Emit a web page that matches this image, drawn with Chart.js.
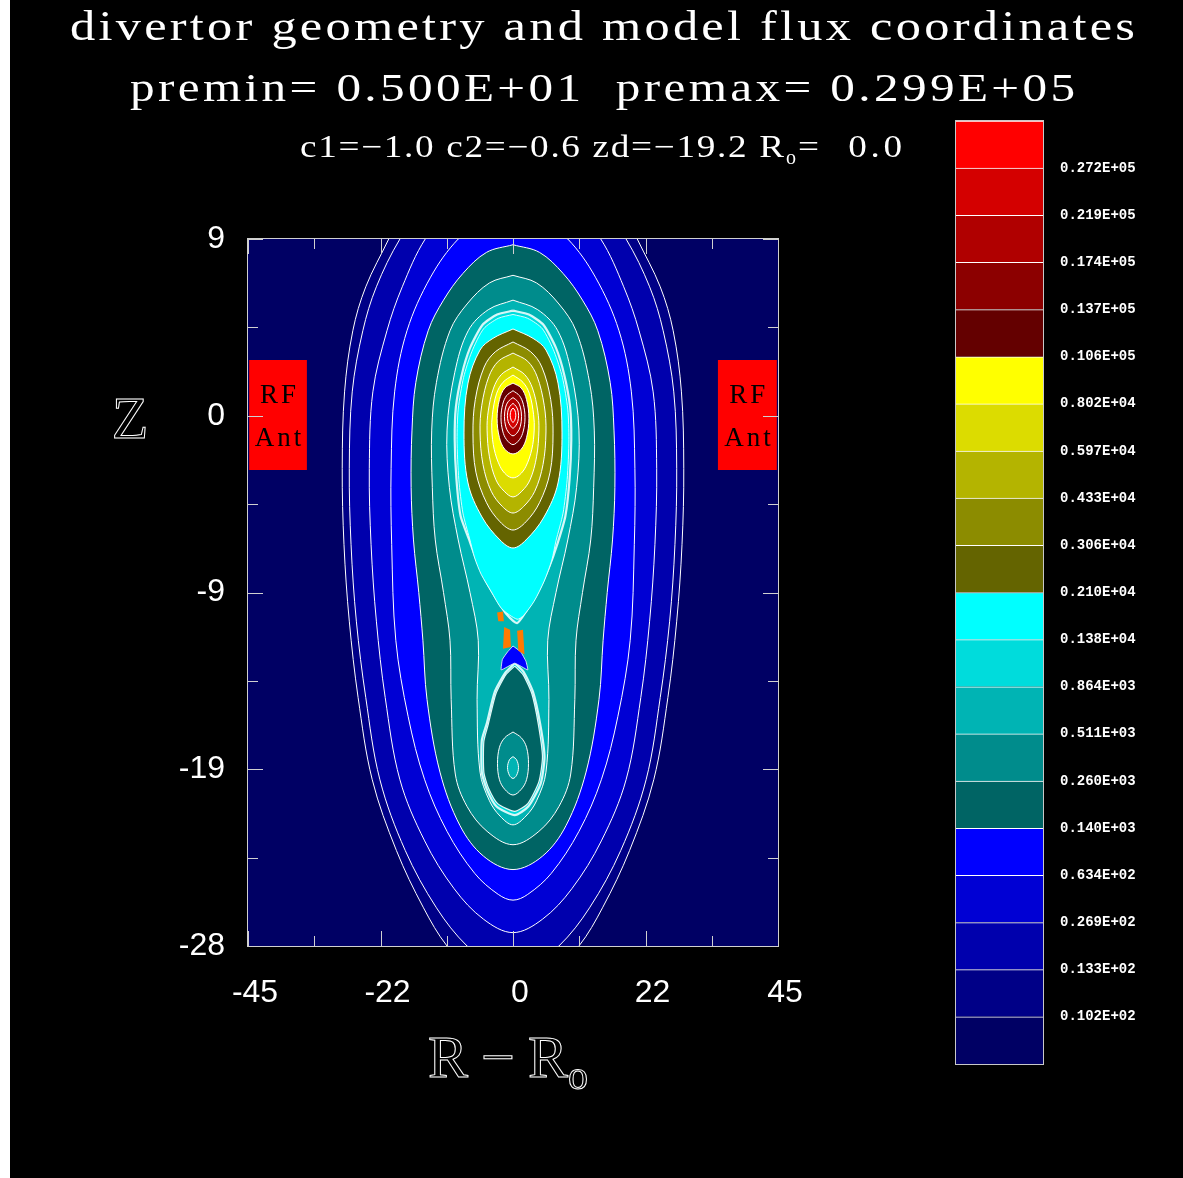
<!DOCTYPE html>
<html>
<head>
<meta charset="utf-8">
<title>divertor geometry and model flux coordinates</title>
<script src="https://cdn.jsdelivr.net/npm/chart.js@4.4.1/dist/chart.umd.min.js"></script>
<style>
html,body{margin:0;padding:0;background:#000;overflow:hidden;}
#wrap{position:relative;width:1183px;height:1178px;background:#000;}
canvas{position:absolute;top:0;}
#main{left:0;}
#cbar{left:900px;}
</style>
</head>
<body>
<div id="wrap">
<canvas id="main" width="1183" height="1178"></canvas>
<canvas id="cbar" width="283" height="1178"></canvas>
</div>
<script>
// ================= DATA =================
// colour-bar level boundaries (bottom -> top)
const levelLabels = ['0.102E+02','0.133E+02','0.269E+02','0.634E+02','0.140E+03',
  '0.260E+03','0.511E+03','0.864E+03','0.138E+04','0.210E+04',
  '0.306E+04','0.433E+04','0.597E+04','0.802E+04','0.106E+05',
  '0.137E+05','0.174E+05','0.219E+05','0.272E+05'];
// colours of the 20 bands (bottom -> top)
const levelColors = ['#000064','#000087','#0000ad','#0000d4','#0000ff',
  '#006464','#008c8c','#00b4b4','#00dcdc','#00ffff',
  '#646400','#8c8c00','#b4b400','#dcdc00','#ffff00',
  '#640000','#8c0000','#b00000','#d40000','#ff0000'];

// axes
const xTickValues = [-45,-33.75,-22.5,-11.25,0,11.25,22.5,33.75,45];
const xTickLabels = ['-45','','-22','','0','','22','','45'];
const yTickValues = [-28,-23.375,-18.75,-14.125,-9.5,-4.875,-0.25,4.375,9];
const yTickLabels = ['-28','','-19','','-9','','0','','9'];

// flux surfaces, symmetric profiles [Z, half-width in R]
const psi01 = [[15.5,0],[14.5,8],[12,16.5],[9,21.1],[6.5,25],[4.2,27.2],[1,28.6],[-3,29.0],[-7,28.7],[-11,27.8],[-15,26.3],[-19.3,23.9],[-23,19.8],[-26,15.2],[-28,11.2],[-30,5],[-30.6,0]];
const psi02 = [[14,0],[13,8],[11,14.5],[9,19.2],[6.5,23.2],[4.2,25.5],[1,27.3],[-3,27.8],[-7,27.5],[-11,26.6],[-15,25.0],[-19.3,22.6],[-23,18.3],[-26,13],[-28,7.8],[-29,3],[-29.3,0]];
const psi03 = [[12,0],[11,7.5],[10,11.5],[9,14.9],[6.5,18.8],[4.2,21.4],[1,23.8],[-3,24.4],[-7,24.1],[-11,23.2],[-15,21.7],[-19.3,19.2],[-22.5,15],[-25,10],[-26.6,5],[-27.3,0]];
const psi04 = [[10.3,0],[9.9,5],[9,9.3],[7,14],[4.2,18.0],[1,20.1],[-3,20.7],[-7,20.6],[-12,19.9],[-16,17.8],[-19.3,15.0],[-22,11.2],[-24.2,6.5],[-25.3,2.5],[-25.6,0]];
const psi05 = [[8.7,0],[8.3,4.5],[7.2,8.5],[5.8,11.8],[4.2,14.4],[1.5,16.5],[-1,17.15],[-4,17.3],[-6.75,16.9],[-9.5,16.0],[-12,15.3],[-15.1,14.6],[-18.9,12.4],[-21.7,9.0],[-23.3,5],[-24,0]];
const psi06 = [[7.1,0],[6.7,4],[5.6,7.8],[4.2,10.7],[1.5,13.0],[-1,13.8],[-4,13.7],[-6.75,13.2],[-9.5,11.8],[-12,10.7],[-15.1,10.5],[-19,9.8],[-20.7,7.8],[-22.0,4.4],[-22.7,0]];
const psi07 = [[5.8,0],[5.3,4.2],[4.2,7.6],[2,9.9],[-1,11.2],[-4,10.8],[-6.75,9.3],[-9.5,7.3],[-12,5.9],[-15.1,6.1],[-18.9,5.6],[-20.4,4.0],[-21.2,2.2],[-21.66,0]];
// upper core
const psi10 = [[4.29,0],[3.8,3.4],[3.19,5.6],[1.46,7.64],[-1.15,8.32],[-3.77,7.64],[-5.55,5.26],[-6.75,2.21],[-7.17,0]];
const psi11 = [[3.61,0],[3.1,3.0],[2.3,4.9],[0.6,6.4],[-1.2,6.8],[-3.2,6.3],[-4.8,4.5],[-5.8,2.2],[-6.23,0]];
const psi12 = [[3.03,0],[2.6,2.5],[1.8,4.1],[0.3,5.3],[-1.1,5.6],[-2.8,5.1],[-4.2,3.7],[-5.0,1.8],[-5.34,0]];
const psi13 = [[2.3,0],[1.9,2.0],[1.2,3.3],[0,4.2],[-1.0,4.4],[-2.4,4.0],[-3.6,2.9],[-4.2,1.5],[-4.5,0]];
const psi14 = [[1.88,0],[1.5,1.7],[0.9,2.8],[-0.2,3.5],[-1.0,3.6],[-2.0,3.2],[-2.9,2.2],[-3.35,1.1],[-3.5,0]];
const psi15 = [[1.46,0],[1.2,1.4],[0.6,2.3],[-0.4,2.7],[-1.4,2.3],[-2.0,1.4],[-2.25,0]];
const psi16 = [[1.06,0],[0.8,1.1],[0.35,1.75],[-0.35,2.04],[-1.05,1.75],[-1.5,1.1],[-1.76,0]];
const psi17 = [[0.7,0],[0.5,0.8],[0.2,1.25],[-0.3,1.45],[-0.8,1.25],[-1.1,0.8],[-1.3,0]];
const psi18 = [[0.4,0],[0.25,0.5],[0.05,0.82],[-0.25,0.95],[-0.55,0.82],[-0.75,0.5],[-0.9,0]];
const psi19 = [[0.15,0],[0.05,0.3],[-0.22,0.48],[-0.49,0.3],[-0.59,0]];
// lower (divertor) lobe ellipses
const psiLow1 = [[-16.8,0],[-17.1,1.4],[-17.6,2.3],[-18.45,2.63],[-19.3,2.3],[-19.8,1.4],[-20.1,0]];
const psiLow2 = [[-18.09,0],[-18.25,0.6],[-18.66,0.93],[-19.07,0.6],[-19.23,0]];

// separatrix region outlines [R, Z]
const sepUpper = [[0,5.25],[2.7,5.05],[5.2,4.5],[7.3,3.3],[8.7,1.9],[9.7,0.2],[9.9,-1.5],[9.6,-3.6],[8.9,-5.5],[7.6,-6.9],[6.1,-8.2],[4.2,-9.5],[2.4,-10.4],[0.7,-11.1],[-1.2,-10.6],[-2.9,-9.8],[-4.6,-8.9],[-6.2,-7.8],[-7.5,-6.7],[-8.9,-5.5],[-9.6,-3.6],[-9.9,-1.5],[-9.7,0.2],[-8.7,1.9],[-7.3,3.3],[-5.2,4.5],[-2.7,5.05]];
const sepCyan = [[0,5.05],[2.5,4.85],[5.0,4.3],[7.0,3.1],[8.4,1.75],[9.3,0.1],[9.5,-1.5],[9.2,-3.6],[8.5,-5.35],[7.3,-6.8],[6.6,-7.8],[5.3,-8.9],[3.6,-9.95],[1.8,-10.7],[0.7,-10.9],[-1.9,-10.35],[-3.7,-9.45],[-5.4,-8.55],[-6.5,-7.7],[-7.4,-6.65],[-8.5,-5.35],[-9.2,-3.6],[-9.5,-1.5],[-9.3,0.1],[-8.4,1.75],[-7.0,3.1],[-5.0,4.3],[-2.5,4.85]];
const sepLower = [[0.3,-13.2],[1.8,-13.65],[3.4,-14.7],[4.6,-16.35],[5.35,-18.1],[4.7,-19.5],[2.6,-20.7],[0.3,-21.15],[-2.8,-20.7],[-4.45,-19.8],[-5.3,-18.9],[-5.3,-17.25],[-4.45,-16.35],[-3.1,-14.7],[-1.3,-13.7]];
const lowerCore = [[0.3,-13.35],[1.7,-13.8],[3.2,-14.8],[4.3,-16.4],[5.0,-18.1],[4.4,-19.4],[2.5,-20.55],[0.3,-20.95],[-2.6,-20.55],[-4.2,-19.7],[-4.95,-18.9],[-4.95,-17.3],[-4.2,-16.4],[-2.9,-14.8],[-1.2,-13.8]];
const xBlue = [[0,-12.3],[1.3,-12.6],[2.2,-13.1],[2.5,-13.55],[0.3,-13.2],[-2.0,-13.55],[-1.8,-13.0],[-0.9,-12.6]];
const xOrangeA = [[-2.7,-10.55],[-1.7,-10.5],[-1.55,-11.0],[-2.5,-11.0]];
const xOrangeB = [[-1.5,-11.3],[-0.5,-11.45],[-0.35,-12.35],[-1.7,-12.45]];
const xOrangeC = [[0.7,-11.5],[1.7,-11.45],[1.95,-12.75],[0.9,-12.55]];

// RF antennas
const antennaR = [[-44.8,-35.0],[34.8,44.8]];
const antennaZ = [-3.09, 2.67];

// ================= BUILD =================
function symPts(profile){
  const right = profile.map(([z,w]) => ({x:w, y:z}));
  const left = profile.slice().reverse().map(([z,w]) => ({x:-w, y:z}));
  return right.concat(left.slice(1));
}
function polyPts(list){
  const p = list.map(([r,z]) => ({x:r, y:z}));
  p.push({x:list[0][0], y:list[0][1]});
  return p;
}
function area(pts, color, extra){
  return Object.assign({data:pts, showLine:true, fill:'shape', backgroundColor:color,
    borderColor:'#ffffff', borderWidth:1, pointRadius:0, tension:0.35}, extra||{});
}
const C = levelColors;
const jag = {borderColor:'rgba(225,250,250,0.95)', borderWidth:2.2, tension:0.2};
const layers = [
  area(symPts(psi01), C[1]), area(symPts(psi02), C[2]), area(symPts(psi03), C[3]),
  area(symPts(psi04), C[4]), area(symPts(psi05), C[5]), area(symPts(psi06), C[6]),
  area(symPts(psi07), C[7]),
  area(polyPts(sepUpper), C[8], jag),
  area(polyPts(sepCyan), C[9], {tension:0.25, borderColor:'rgba(235,255,255,0.9)'}),
  area(symPts(psi10), C[10]), area(symPts(psi11), C[11]), area(symPts(psi12), C[12]),
  area(symPts(psi13), C[13]), area(symPts(psi14), C[14]), area(symPts(psi15), C[15]),
  area(symPts(psi16), C[16]), area(symPts(psi17), C[17]), area(symPts(psi18), C[18]),
  area(symPts(psi19), C[19]),
  area(polyPts(sepLower), C[8], jag),
  area(polyPts(lowerCore), C[5], {borderColor:'rgba(255,255,255,0.9)', borderWidth:1.2, tension:0.2}),
  area(symPts(psiLow1), C[6]), area(symPts(psiLow2), C[7]),
  area(polyPts(xBlue), C[4], {tension:0.1, borderColor:'rgba(255,255,255,0.8)'}),
  area(polyPts(xOrangeA), '#ff7a00', {tension:0, borderWidth:0}),
  area(polyPts(xOrangeB), '#ff7a00', {tension:0, borderWidth:0}),
  area(polyPts(xOrangeC), '#ff7a00', {tension:0, borderWidth:0}),
];
antennaR.forEach(([r0,r1]) => {
  layers.push(area(polyPts([[r0,antennaZ[1]],[r1,antennaZ[1]],[r1,antennaZ[0]],[r0,antennaZ[0]]]), '#ff0000', {tension:0, borderWidth:0}));
});
layers.forEach((d,i) => { d.order = layers.length - i; });

// draws one text string stretched by k horizontally, letter-spaced to fill 'width'
function fitText(ctx, text, x, y, width, k, stroke){
  ctx.letterSpacing = '0px';
  const n = Array.from(text).length;
  const w0 = ctx.measureText(text).width;
  const ls = n > 1 ? (width / k - w0) / (n - 1) : 0;
  ctx.save();
  ctx.translate(x, y); ctx.scale(k, 1);
  ctx.letterSpacing = ls.toFixed(2) + 'px';
  if (stroke) ctx.strokeText(text, 0, 0); else ctx.fillText(text, 0, 0);
  ctx.restore();
  ctx.letterSpacing = '0px';
  return ls;
}

const bgPlugin = {
  id:'bg',
  beforeDraw(chart){
    const {ctx, chartArea:a} = chart;
    ctx.save();
    ctx.fillStyle = '#000'; ctx.fillRect(0,0,chart.width,chart.height);
    ctx.fillStyle = '#ffffff'; ctx.fillRect(0,0,10,chart.height);
    ctx.fillStyle = levelColors[0]; ctx.fillRect(a.left,a.top,a.right-a.left,a.bottom-a.top);
    ctx.restore();
  }
};
const framePlugin = {
  id:'frame',
  afterDatasetsDraw(chart){
    const {ctx, chartArea:a, scales:{x,y}} = chart;
    ctx.save();
    ctx.strokeStyle = '#d0d0d0'; ctx.lineWidth = 1;
    ctx.beginPath();
    x.ticks.forEach((t,i) => {
      const p = Math.round(x.getPixelForValue(t.value)) + 0.5;
      const len = xTickLabels[i] ? 15 : 10;
      ctx.moveTo(p, a.bottom); ctx.lineTo(p, a.bottom - len);
      ctx.moveTo(p, a.top); ctx.lineTo(p, a.top + len);
    });
    y.ticks.forEach((t,i) => {
      const p = Math.round(y.getPixelForValue(t.value)) + 0.5;
      const len = yTickLabels[i] ? 15 : 10;
      ctx.moveTo(a.left, p); ctx.lineTo(a.left + len, p);
      ctx.moveTo(a.right, p); ctx.lineTo(a.right - len, p);
    });
    ctx.stroke();
    ctx.strokeRect(a.left - 0.5, a.top - 0.5, a.right - a.left + 1, a.bottom - a.top + 1);
    // antenna labels
    ctx.fillStyle = '#000';
    ctx.font = '27px "Liberation Serif"';
    ctx.textAlign = 'center'; ctx.textBaseline = 'middle';
    ctx.letterSpacing = '3px';
    antennaR.forEach(([r0,r1]) => {
      const cx = x.getPixelForValue((r0+r1)/2) + 1.5;
      ctx.fillText('RF', cx, y.getPixelForValue(0.8));
      ctx.fillText('Ant', cx, y.getPixelForValue(-1.45));
    });
    ctx.letterSpacing = '0px';
    ctx.restore();
  },
  afterDraw(chart){
    const ctx = chart.ctx;
    ctx.save();
    ctx.fillStyle = '#fff'; ctx.strokeStyle = '#fff';
    ctx.textAlign = 'left'; ctx.textBaseline = 'alphabetic';
    ctx.font = '42px "Liberation Serif"';
    fitText(ctx, 'divertor geometry and model flux coordinates', 70, 40, 1065, 1.2);
    ctx.font = '41px "Liberation Serif"';
    fitText(ctx, 'premin= 0.500E+01  premax= 0.299E+05', 130, 101, 945, 1.2);
    ctx.font = '31px "Liberation Serif"';
    fitText(ctx, 'c1=\u22121.0 c2=\u22120.6 zd=\u221219.2 R', 300, 157, 484, 1.2);
    ctx.font = '20px "Liberation Serif"';
    ctx.fillText('o', 786, 164);
    ctx.font = '31px "Liberation Serif"';
    fitText(ctx, '=  0.0', 798, 157, 104, 1.2);
    // axis titles (outlined, like the duplex plot font)
    ctx.lineWidth = 1;
    ctx.font = '60px "Liberation Serif"';
    ctx.textAlign = 'center';
    ctx.strokeText('Z', 130, 438);
    ctx.textAlign = 'left';
    fitText(ctx, 'R\u2212R', 428, 1077, 140, 1.0, true);
    ctx.font = '40px "Liberation Serif"';
    ctx.strokeText('o', 568, 1089);
    ctx.restore();
  }
};

new Chart(document.getElementById('main'), {
  type:'scatter',
  data:{datasets:layers},
  options:{
    responsive:false, animation:false, devicePixelRatio:1, events:[],
    layout:{padding:{left:0, top:239, right:405, bottom:132}},
    plugins:{legend:{display:false}, tooltip:{enabled:false}, title:{display:false}},
    elements:{point:{radius:0}, line:{capBezierPoints:false}},
    scales:{
      x:{type:'linear', min:-45, max:45,
        afterFit(s){ s.height = 100; },
        afterBuildTicks(s){ s.ticks = xTickValues.map(v => ({value:v})); },
        ticks:{color:'#fff', autoSkip:false, maxRotation:0, minRotation:0, padding:28, labelOffset:7,
          font:{family:'Liberation Sans', size:32}, callback:(v,i) => xTickLabels[i]},
        grid:{display:false, drawTicks:false}, border:{display:false}},
      y:{type:'linear', min:-28, max:9,
        afterFit(s){ s.width = 248; },
        afterBuildTicks(s){ s.ticks = yTickValues.map(v => ({value:v})); },
        ticks:{color:'#fff', autoSkip:false, padding:23,
          font:{family:'Liberation Sans', size:32}, callback:(v,i) => yTickLabels[i]},
        grid:{display:false, drawTicks:false}, border:{display:false}}
    }
  },
  plugins:[bgPlugin, framePlugin]
});

// ================= COLOUR BAR =================
const cbarFrame = {
  id:'cbarFrame',
  afterDatasetsDraw(chart){
    const {ctx, chartArea:a} = chart;
    ctx.save(); ctx.strokeStyle = '#c8c8c8'; ctx.lineWidth = 1;
    ctx.strokeRect(a.left - 0.5, a.top - 0.5, a.right - a.left + 1, a.bottom - a.top + 1);
    ctx.restore();
  }
};
new Chart(document.getElementById('cbar'), {
  type:'bar',
  data:{labels:[''], datasets:levelColors.map((c) => ({data:[1], backgroundColor:c, borderColor:'#ffffff',
    borderWidth:{top:1, left:0, right:0, bottom:0}, borderSkipped:'start', barPercentage:1, categoryPercentage:1}))},
  options:{
    responsive:false, animation:false, devicePixelRatio:1, events:[],
    layout:{padding:{left:56, top:121, bottom:114, right:0}},
    plugins:{legend:{display:false}, tooltip:{enabled:false}},
    scales:{
      x:{stacked:true, display:false},
      y:{stacked:true, position:'right', min:0, max:20,
        afterFit(s){ s.width = 140; },
        afterBuildTicks(s){ s.ticks = levelLabels.map((_,i) => ({value:i+1})); },
        ticks:{color:'#fff', padding:17, autoSkip:false,
          font:{family:'Liberation Mono', size:14, weight:'bold'}, callback:(v,i) => levelLabels[i]},
        grid:{display:false, drawTicks:false}, border:{display:false}}
    }
  },
  plugins:[cbarFrame]
});
</script>
</body>
</html>
